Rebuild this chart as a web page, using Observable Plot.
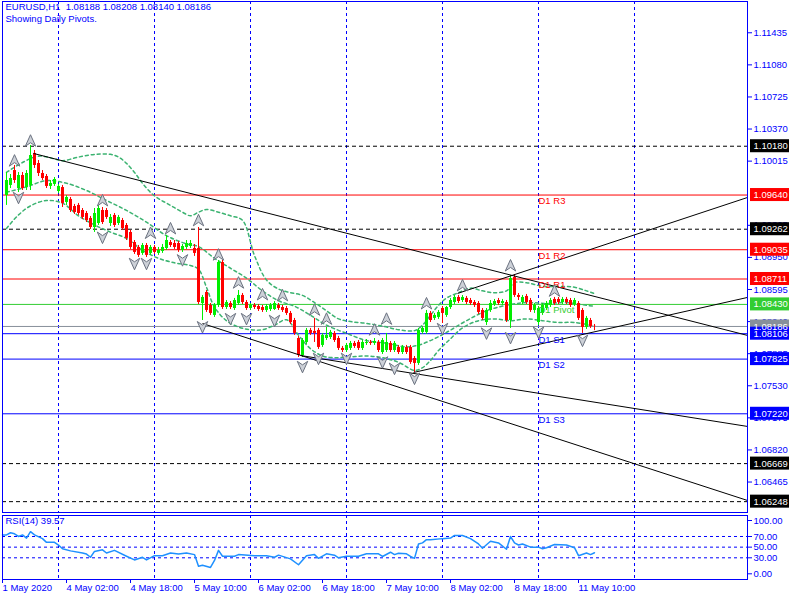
<!DOCTYPE html>
<html><head><meta charset="utf-8">
<script src="https://cdn.jsdelivr.net/npm/d3@7"></script>
<script src="https://cdn.jsdelivr.net/npm/@observablehq/plot@0.6"></script>
<style>
html,body{margin:0;padding:0;background:#fff;}
#chart{position:relative;width:800px;height:600px;overflow:hidden;background:#fff;}
#chart svg{position:absolute;left:0;}
</style></head><body><div id="chart"></div>
<script>
// ---------- DATA ----------
const symbolName = "EURUSD,H1";
const lastOHLC = [1.08188, 1.08208, 1.08140, 1.08186];
const subtitle = "Showing Daily Pivots.";
const rsiName = "RSI(14)";
const rsiLast = 39.57;

const open = [
1.09635,1.09746,1.09911,1.09712,1.09856,1.09723,1.09746,1.10100,1.09989,1.09878,
1.09845,1.09735,1.09757,1.09679,1.09723,1.09558,1.09591,1.09513,1.09525,1.09469,
1.09436,1.09381,1.09281,1.09325,1.09469,1.09469,1.09325,1.09414,1.09325,1.09358,
1.09303,1.09226,1.09115,1.09060,1.08994,1.09082,1.08994,1.09060,1.08994,1.09016,
1.09049,1.09115,1.09104,1.09104,1.09027,1.09060,1.09071,1.09049,1.09049,1.08440,
1.08562,1.08418,1.08308,1.08418,1.08894,1.08396,1.08440,1.08385,1.08440,1.08529,
1.08451,1.08385,1.08418,1.08407,1.08396,1.08363,1.08374,1.08374,1.08418,1.08396,
1.08385,1.08330,1.08252,1.08053,1.07865,1.08009,1.08142,1.08131,1.08142,1.07976,
1.08053,1.08064,1.08109,1.08053,1.07943,1.07920,1.07943,1.07998,1.08009,1.07943,
1.07998,1.08009,1.07998,1.08009,1.07898,1.07920,1.07998,1.07920,1.07954,1.07898,
1.07954,1.07954,1.07832,1.07777,1.08120,1.08120,1.08330,1.08275,1.08286,1.08385,
1.08308,1.08396,1.08451,1.08507,1.08473,1.08496,1.08473,1.08451,1.08440,1.08363,
1.08230,1.08363,1.08429,1.08473,1.08440,1.08451,1.08252,1.08728,1.08529,1.08451,
1.08518,1.08473,1.08363,1.08230,1.08330,1.08385,1.08418,1.08485,1.08485,1.08451,
1.08485,1.08473,1.08429,1.08440,1.08363,1.08175,1.08252,1.08188];
const high = [
1.09889,1.09867,1.09967,1.09889,1.09889,1.09911,1.10188,1.10133,1.10022,1.09911,
1.09867,1.09801,1.09834,1.09757,1.09746,1.09635,1.09613,1.09536,1.09547,1.09491,
1.09458,1.09403,1.09491,1.09525,1.09502,1.09491,1.09425,1.09436,1.09414,1.09381,
1.09325,1.09248,1.09137,1.09082,1.09104,1.09104,1.09082,1.09082,1.09060,1.09093,
1.09193,1.09137,1.09137,1.09126,1.09093,1.09137,1.09137,1.09093,1.09281,1.08529,
1.08584,1.08440,1.08440,1.08916,1.08916,1.08473,1.08462,1.08496,1.08584,1.08551,
1.08473,1.08440,1.08440,1.08429,1.08418,1.08429,1.08440,1.08462,1.08440,1.08418,
1.08407,1.08352,1.08275,1.08076,1.08053,1.08164,1.08164,1.08275,1.08164,1.08109,
1.08175,1.08142,1.08131,1.08076,1.07965,1.07998,1.08020,1.08020,1.08031,1.08031,
1.08042,1.08031,1.08053,1.08031,1.08053,1.08109,1.08020,1.08020,1.07976,1.07976,
1.07976,1.07976,1.07854,1.08164,1.08186,1.08363,1.08352,1.08330,1.08363,1.08407,
1.08407,1.08496,1.08529,1.08529,1.08529,1.08518,1.08496,1.08473,1.08462,1.08385,
1.08385,1.08473,1.08485,1.08496,1.08485,1.08473,1.08750,1.08761,1.08551,1.08529,
1.08540,1.08496,1.08440,1.08407,1.08440,1.08462,1.08496,1.08507,1.08507,1.08507,
1.08507,1.08496,1.08496,1.08462,1.08385,1.08297,1.08275,1.08208];
const low = [
1.09525,1.09712,1.09768,1.09668,1.09690,1.09690,1.09690,1.09934,1.09845,1.09801,
1.09712,1.09701,1.09735,1.09657,1.09502,1.09525,1.09447,1.09425,1.09414,1.09370,
1.09336,1.09259,1.09226,1.09303,1.09314,1.09370,1.09292,1.09281,1.09303,1.09248,
1.09137,1.09038,1.08983,1.08949,1.08972,1.08949,1.08972,1.08983,1.08972,1.08994,
1.09027,1.09060,1.09038,1.09005,1.09005,1.09038,1.09049,1.08961,1.08429,1.08252,
1.08341,1.08308,1.08286,1.08396,1.08374,1.08374,1.08374,1.08363,1.08418,1.08429,
1.08363,1.08363,1.08374,1.08352,1.08341,1.08341,1.08352,1.08363,1.08363,1.08341,
1.08308,1.08208,1.08087,1.07843,1.07843,1.07987,1.08087,1.08009,1.07932,1.07954,
1.08031,1.08042,1.08009,1.07920,1.07898,1.07898,1.07920,1.07943,1.07920,1.07920,
1.07976,1.07976,1.07976,1.07898,1.07876,1.07898,1.07898,1.07898,1.07876,1.07876,
1.07876,1.07766,1.07677,1.07755,1.08098,1.08098,1.08230,1.08252,1.08264,1.08219,
1.08286,1.08374,1.08429,1.08440,1.08451,1.08429,1.08418,1.08396,1.08319,1.08252,
1.08197,1.08341,1.08407,1.08418,1.08418,1.08230,1.08164,1.08507,1.08473,1.08429,
1.08429,1.08341,1.08330,1.08197,1.08308,1.08363,1.08396,1.08418,1.08429,1.08429,
1.08429,1.08396,1.08407,1.08252,1.08109,1.08153,1.08164,1.08140];
const close = [
1.09801,1.09823,1.09801,1.09856,1.09712,1.09878,1.10077,1.09967,1.09878,1.09823,
1.09735,1.09768,1.09812,1.09735,1.09547,1.09613,1.09469,1.09447,1.09436,1.09392,
1.09358,1.09281,1.09436,1.09491,1.09336,1.09392,1.09392,1.09303,1.09392,1.09270,
1.09160,1.09060,1.09005,1.08972,1.09082,1.08972,1.09060,1.09005,1.09027,1.09060,
1.09137,1.09082,1.09060,1.09027,1.09071,1.09104,1.09104,1.08994,1.08451,1.08507,
1.08363,1.08330,1.08418,1.08894,1.08396,1.08451,1.08396,1.08473,1.08529,1.08451,
1.08385,1.08418,1.08396,1.08374,1.08363,1.08407,1.08418,1.08440,1.08385,1.08363,
1.08330,1.08230,1.08109,1.07865,1.08031,1.08142,1.08109,1.08109,1.07954,1.08087,
1.08087,1.08120,1.08031,1.07943,1.07920,1.07976,1.07998,1.07965,1.07943,1.08009,
1.08009,1.07998,1.08020,1.07920,1.08031,1.08009,1.07920,1.07998,1.07898,1.07954,
1.07898,1.07788,1.07777,1.08142,1.08164,1.08330,1.08252,1.08308,1.08341,1.08330,
1.08396,1.08473,1.08507,1.08462,1.08507,1.08451,1.08440,1.08418,1.08341,1.08275,
1.08363,1.08440,1.08462,1.08440,1.08462,1.08252,1.08717,1.08529,1.08507,1.08507,
1.08451,1.08363,1.08418,1.08385,1.08418,1.08440,1.08473,1.08440,1.08451,1.08485,
1.08451,1.08418,1.08473,1.08275,1.08175,1.08275,1.08186,1.08186];

// time axis (bar index -> label)
const timeTickBars = [-1, 15, 31, 47, 63, 79, 95, 111, 127, 143];
const timeTickLabels = ["1 May 2020","4 May 02:00","4 May 18:00","5 May 10:00","6 May 02:00","6 May 18:00","7 May 10:00","8 May 02:00","8 May 18:00","11 May 10:00"];
const dayGridBars = [13, 37, 61, 85, 109, 133, 157];

// price scale labels (1.09660 lies fully under the R3 tag, so it is not shown)
const priceTicks = [1.11435,1.11080,1.10725,1.10370,1.10015,1.09305,1.08950,1.08595,1.08240,1.07885,1.07530,1.07175,1.06820,1.06465];

// daily pivots
const pivotNames  = ["D1 R3","D1 R2","D1 R1","D1 Pivot","D1 S1","D1 S2","D1 S3"];
const pivotValues = [1.09640,1.09035,1.08711,1.08430,1.08106,1.07825,1.07220];
const pivotKinds  = ["R","R","R","P","S","S","S"];
const pivotDayBar = 133;
// dashed horizontal levels
const levelValues = [1.10180,1.09262,1.06669,1.06248];
const bidPrice = 1.08186;

// Bollinger-style dashed bands
const upperBars = [0,4,8,12,14,18,22,26,28,30,32,34,36,38,40,42,44,46,48,50,53,56,59,62,65,68,71,74,77,80,83,86,90,94,98,102,104,106,108,110,113,116,119,122,125,127,130,134,138,142,145,147];
const upperVals = [1.0989,1.1000,1.1007,1.1004,1.1002,1.1006,1.1009,1.1009,1.1006,1.0999,1.0989,1.0977,1.0967,1.0960,1.0955,1.0950,1.0945,1.0941,1.0945,1.0948,1.0945,1.0941,1.0936,1.0897,1.0870,1.0860,1.0856,1.0853,1.0845,1.0836,1.0827,1.0824,1.0822,1.0819,1.0815,1.0814,1.0820,1.0831,1.0842,1.0850,1.0856,1.0861,1.0858,1.0856,1.0858,1.0867,1.0867,1.0863,1.0863,1.0862,1.0858,1.0855];
const midBars = [0,5,10,15,20,25,30,35,40,45,48,52,56,60,64,68,72,76,80,85,90,95,100,103,106,110,115,120,125,130,135,140,145,147];
const midVals = [1.0967,1.0973,1.0980,1.0977,1.0969,1.0958,1.0947,1.0934,1.0919,1.0910,1.0907,1.0894,1.0883,1.0872,1.0858,1.0847,1.0841,1.0831,1.0820,1.0811,1.0803,1.0800,1.0796,1.0798,1.0803,1.0812,1.0825,1.0836,1.0842,1.0845,1.0844,1.0845,1.0842,1.0841];
const lowerBars = [0,3,6,10,14,18,22,26,30,34,38,42,46,48,50,52,55,58,61,64,67,70,73,76,79,82,86,90,94,98,102,104,106,108,111,114,118,122,126,130,134,138,142,147];
const lowerVals = [1.0927,1.0942,1.0952,1.0958,1.0955,1.0941,1.0931,1.0923,1.0916,1.0903,1.0894,1.0889,1.0886,1.0882,1.0862,1.0840,1.0825,1.0818,1.0815,1.0815,1.0820,1.0826,1.0809,1.0794,1.0786,1.0784,1.0785,1.0786,1.0784,1.0779,1.0770,1.0773,1.0781,1.0792,1.0805,1.0817,1.0825,1.0827,1.0825,1.0827,1.0825,1.0823,1.0823,1.0819];

// trend lines
const trendStartBar   = [6.75, 49, 73.5, 101.75, 112.75];
const trendStartPrice = [1.10100, 1.08219, 1.07865, 1.07677, 1.08551];
const trendEndBar     = [185.25, 185.25, 185.25, 185.25, 185.25];
const trendEndPrice   = [1.08087, 1.06261, 1.07080, 1.08507, 1.09613];

// fractals
const upBars   = [2,6,24,36,41,48,53,58,64,69,77,80,92,95,105,114,126,137];
const upPrices = [1.1002,1.1024,1.0958,1.0922,1.0927,1.0936,1.0898,1.0867,1.0854,1.0853,1.0837,1.0827,1.0815,1.0827,1.0844,1.0864,1.0886,1.0858];
const downBars   = [3,24,32,35,44,49,56,60,67,74,78,85,94,97,102,109,120,126,133,144];
const downPrices = [1.0961,1.0917,1.0888,1.0888,1.0892,1.0818,1.0827,1.0827,1.0825,1.0774,1.0783,1.0783,1.0779,1.0772,1.0761,1.0816,1.0811,1.0806,1.0812,1.0803];

// RSI(14)
const rsiBars = [-1,0,1,2,3,4,5,6,7,9,10,12,13,14,16,19,20,21,22,24,25,27,30,32,34,35,37,39,41,43,45,47,48,49,51,52,53,54,57,58,62,65,67,68,71,73,75,77,78,80,82,83,85,88,90,93,94,96,97,98,100,101,102,103,104,105,106,109,111,112,114,116,118,119,121,123,125,126,127,128,129,131,133,134,135,137,140,142,143,145,146,147];
const rsiVals = [73,73,77,75,70,73,67,79,73,66,59,59,54,47,43,39,37,31,42,45,39,44,33,26,31,26,34,34,39,37,39,36,14,16,12,25,44,33,33,36,34,34,31,35,28,17,34,36,29,37.5,35,30,33,33,37.5,37.5,32.5,40.5,36,38.6,37.5,32.5,29,56,58,64,64,66,67,72,72,66,56,48,61,58,46,70,58,54,56,50,50,47,49,55,54,49,34,39,36,39.57];
const rsiLevels = [30, 50, 70];
const rsiTicks = [0, 30, 50, 70, 100];

// ---------- RENDER ----------
const BLUE = "#0000ff";
const FONT = "'Liberation Sans', Arial, sans-serif";
const FS = 9.5;
const xDomain = [-1, 185.25];
const colorOf = {R: "#ff0000", P: "#32cd32", S: "#0000ff", L: "#000000", B: "#87909a"};

const candles = open.map((o, i) => ({i, o, h: high[i], l: low[i], c: close[i]}));
const candleColor = d => d.c >= d.o ? "#00ee00" : "#ff0000";
const pivots = pivotValues.map((v, k) => ({v, name: pivotNames[k], color: colorOf[pivotKinds[k]]}));
const band = (bars, vals) => bars.map((i, k) => ({i, v: vals[k]}));
const trends = trendStartBar.map((b, k) => ({x1: b, y1: trendStartPrice[k], x2: trendEndBar[k], y2: trendEndPrice[k]}));
const ups = upBars.map((i, k) => ({i, v: upPrices[k]}));
const downs = downBars.map((i, k) => ({i, v: downPrices[k]}));
const rsi = rsiBars.map((i, k) => ({i, v: rsiVals[k]}));
const boxes = [
  ...levelValues.map(v => ({v, color: colorOf.L})),
  ...pivots.filter((p, k) => pivotKinds[k] !== "S").map(p => ({v: p.v, color: p.color})),
  {v: bidPrice, color: colorOf.B},
  ...pivots.filter((p, k) => pivotKinds[k] === "S").map(p => ({v: p.v, color: p.color}))
];
const fmt5 = d3.format(".5f");

const arrowUp = {draw(ctx, size) { const s = Math.sqrt(size / Math.PI);
  ctx.moveTo(0, -1.1 * s); ctx.lineTo(0.95 * s, s); ctx.lineTo(0, 0.35 * s); ctx.lineTo(-0.95 * s, s); ctx.closePath(); }};
const arrowDown = {draw(ctx, size) { const s = Math.sqrt(size / Math.PI);
  ctx.moveTo(0, 1.1 * s); ctx.lineTo(0.95 * s, -s); ctx.lineTo(0, -0.35 * s); ctx.lineTo(-0.95 * s, -s); ctx.closePath(); }};

const style = {fontFamily: FONT, fontSize: FS + "px", background: "transparent", overflow: "visible"};

const main = Plot.plot({
  width: 800, height: 514,
  marginLeft: 2, marginRight: 53, marginTop: 1, marginBottom: 2,
  x: {domain: xDomain, axis: null},
  y: {domain: [1.06128, 1.11781], axis: null},
  style,
  marks: [
    Plot.ruleX(dayGridBars, {x: d => d, stroke: BLUE, strokeDasharray: "3,3"}),
    Plot.ruleY(levelValues, {y: d => d, stroke: "#000", strokeDasharray: "4,3"}),
    Plot.ruleY(pivots, {y: "v", stroke: "color"}),
    Plot.ruleY([bidPrice], {y: d => d, stroke: colorOf.B}),
    Plot.line(band(upperBars, upperVals), {x: "i", y: "v", stroke: "#3cb371", strokeDasharray: "3,3", curve: "catmull-rom"}),
    Plot.line(band(midBars, midVals), {x: "i", y: "v", stroke: "#3cb371", strokeDasharray: "3,3", curve: "catmull-rom"}),
    Plot.line(band(lowerBars, lowerVals), {x: "i", y: "v", stroke: "#3cb371", strokeDasharray: "3,3", curve: "catmull-rom"}),
    Plot.ruleX(candles, {x: "i", y1: "l", y2: "h", stroke: candleColor}),
    Plot.ruleX(candles, {x: "i", y1: "o", y2: "c", stroke: candleColor, strokeWidth: 3}),
    Plot.link(trends, {x1: "x1", y1: "y1", x2: "x2", y2: "y2", stroke: "#000", clip: true}),
    Plot.text(pivots, {x: () => pivotDayBar, y: "v", text: "name", fill: "color", textAnchor: "start", dy: 6, fontSize: FS}),
    Plot.dot(ups, {x: "i", y: "v", symbol: arrowUp, r: 5.5, fill: "#cdd1d8", stroke: "#6b7280", strokeWidth: 1}),
    Plot.dot(downs, {x: "i", y: "v", symbol: arrowDown, r: 5.5, fill: "#cdd1d8", stroke: "#6b7280", strokeWidth: 1}),
    Plot.frame({stroke: BLUE}),
    Plot.axisY(priceTicks, {anchor: "right", label: null, tickSize: 4, tickPadding: 2, tickFormat: fmt5, color: BLUE, fontSize: FS}),
    Plot.rect(boxes, {x1: 186, x2: 195.75, y1: d => d.v - 0.00072, y2: d => d.v + 0.00072, fill: "color"}),
    Plot.text(boxes, {x: 186.75, y: "v", text: d => fmt5(d.v), fill: "#fff", textAnchor: "start", fontSize: FS}),
    Plot.text([symbolName + "\u00a0\u00a0" + lastOHLC.map(fmt5).join(" ")], {text: d => d, frameAnchor: "top-left", dx: 3, dy: 2, lineAnchor: "top", fill: BLUE, fontSize: FS}),
    Plot.text([subtitle], {text: d => d, frameAnchor: "top-left", dx: 3, dy: 14, lineAnchor: "top", fill: BLUE, fontSize: FS})
  ]
});
main.style.top = "0px";

const tickLabel = new Map(timeTickBars.map((b, k) => [b, timeTickLabels[k]]));
const rsiPlot = Plot.plot({
  width: 800, height: 86,
  marginLeft: 2, marginRight: 53, marginTop: 1, marginBottom: 21,
  x: {domain: xDomain, axis: null},
  y: {domain: [-10.7, 109.4], axis: null},
  style,
  marks: [
    Plot.ruleX(dayGridBars, {x: d => d, stroke: BLUE, strokeDasharray: "3,3"}),
    Plot.ruleY(rsiLevels, {y: d => d, stroke: BLUE, strokeDasharray: "3,3"}),
    Plot.line(rsi, {x: "i", y: "v", stroke: "#1e90ff"}),
    Plot.frame({stroke: BLUE}),
    Plot.axisY(rsiTicks, {anchor: "right", label: null, tickSize: 4, tickPadding: 2, tickFormat: d3.format(".2f"), color: BLUE, fontSize: FS}),
    Plot.axisX(timeTickBars, {anchor: "bottom", label: null, tickSize: 4, tickPadding: 1, tickFormat: d => tickLabel.get(d), textAnchor: "start", color: BLUE, fontSize: FS}),
    Plot.text([rsiName + " " + rsiLast.toFixed(2)], {text: d => d, frameAnchor: "top-left", dx: 3, dy: 2, lineAnchor: "top", fill: BLUE, fontSize: FS})
  ]
});
rsiPlot.style.top = "514px";

const host = document.getElementById("chart");
host.appendChild(main);
host.appendChild(rsiPlot);
</script></body></html>
